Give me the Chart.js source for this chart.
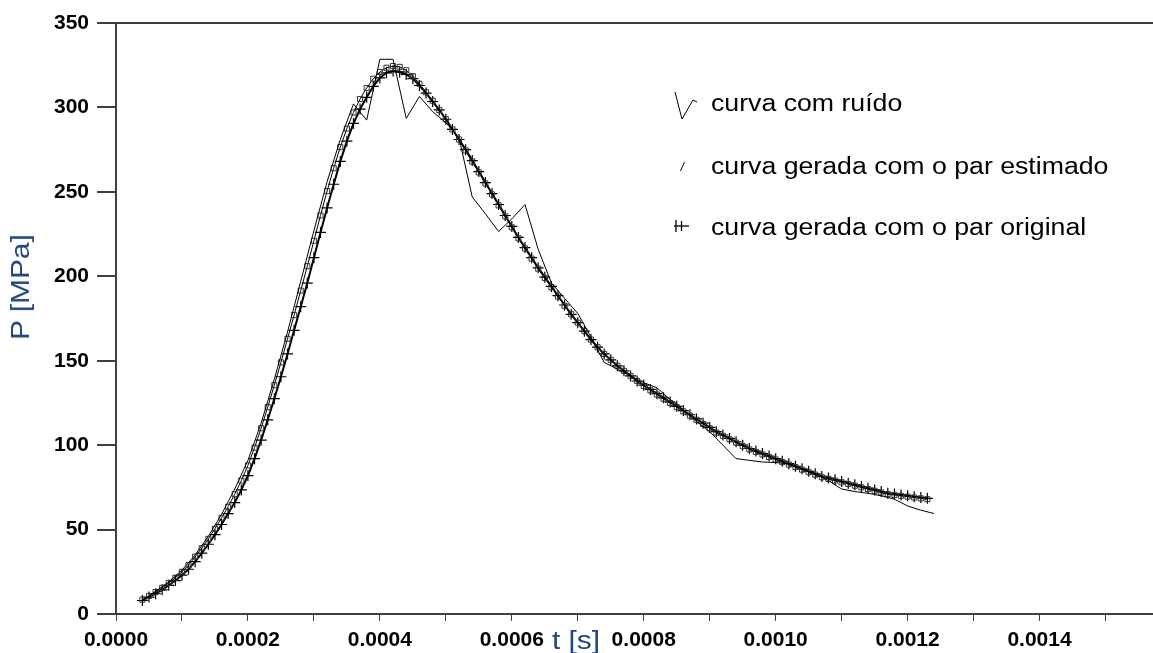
<!DOCTYPE html>
<html>
<head>
<meta charset="utf-8">
<script src="https://cdn.jsdelivr.net/npm/chart.js"></script>
<style>
  body { margin: 0; background: #fff; }
  #wrap { position: relative; width: 1153px; height: 653px; overflow: hidden; }
  #chart { position: absolute; left: 0; top: 0; }
  .lbl { position: absolute; white-space: nowrap; font-family: "Liberation Sans", Arial, sans-serif; }
  .leg { font-size: 23px; line-height: 23px; color: #000; transform: scaleX(1.16); transform-origin: 0 0; }
  .axt { font-size: 26px; line-height: 26px; color: #23467e; }
</style>
</head>
<body>
<div id="wrap">
  <canvas id="chart" width="1153" height="653"></canvas>

  <div class="lbl axt" style="left:20px; top:287px; transform: translate(-50%,-50%) rotate(-90deg) scaleX(1.15);">P [MPa]</div>
  <div class="lbl axt" style="left:576px; top:627px; transform: translateX(-50%) scaleX(1.15);">t [s]</div>

  <svg style="position:absolute; left:0; top:0;" width="1153" height="653">
    <polyline points="675,92 682,119 693,100 697,102" fill="none" stroke="#000" stroke-width="1"/>
    <line x1="680.5" y1="171" x2="684.5" y2="162" stroke="#000" stroke-width="1"/>
    <line x1="674" y1="226" x2="689" y2="226" stroke="#000" stroke-width="1.3"/>
    <line x1="676" y1="220" x2="676" y2="232" stroke="#000" stroke-width="1.3"/>
    <line x1="681.5" y1="221" x2="681.5" y2="231" stroke="#000" stroke-width="1.3"/>
  </svg>
  <div class="lbl leg" style="left:711px; top:92px;">curva com ruído</div>
  <div class="lbl leg" style="left:711px; top:155px;">curva gerada com o par estimado</div>
  <div class="lbl leg" style="left:711px; top:216px;">curva gerada com o par original</div>
</div>

<script>
// time grids in microseconds
const tFine = [
  40, 50, 60, 70, 80, 90, 100, 110, 120, 130,
  140, 150, 160, 170, 180, 190, 200, 210, 220, 230,
  240, 250, 260, 270, 280, 290, 300, 310, 320, 330,
  340, 350, 360, 370, 380, 390, 400, 410, 420, 430,
  440, 450, 460, 470, 480, 490, 500, 510, 520, 530,
  540, 550, 560, 570, 580, 590, 600, 610, 620, 630,
  640, 650, 660, 670, 680, 690, 700, 710, 720, 730,
  740, 750, 760, 770, 780, 790, 800, 810, 820, 830,
  840, 850, 860, 870, 880, 890, 900, 910, 920, 930,
  940, 950, 960, 970, 980, 990, 1000, 1010, 1020, 1030,
  1040, 1050, 1060, 1070, 1080, 1090, 1100, 1110, 1120, 1130,
  1140, 1150, 1160, 1170, 1180, 1190, 1200, 1210, 1220, 1230
];
const tNoisy = [
  40, 60, 80, 100, 120, 140, 160, 180, 200, 220,
  240, 260, 280, 300, 320, 340, 360, 380, 400, 420,
  440, 460, 480, 500, 520, 540, 560, 580, 600, 620,
  640, 660, 680, 700, 720, 740, 760, 780, 800, 820,
  840, 860, 880, 900, 920, 940, 960, 980, 1000, 1020,
  1040, 1060, 1080, 1100, 1120, 1140, 1160, 1180, 1200, 1220,
  1240
];

// P [MPa]
const pOriginal = [
  8, 10, 12, 14.3, 17, 19.8, 23, 26.5, 31, 36,
  41.3, 47, 53, 59.5, 66, 73.5, 82, 92, 103, 115,
  127.5, 140.5, 154, 168, 182, 196, 211, 226, 240.5, 254.5,
  268, 280, 290.5, 299, 306, 312.5, 317.5, 320.5, 321.5, 321,
  319.5, 317, 313, 308.5, 303.5, 298.5, 293, 287, 281, 275,
  268.5, 262, 255.5, 249, 242.5, 236, 229.5, 223, 217, 211,
  205, 199.5, 194, 188.5, 183, 177.5, 172.5, 167.5, 162.5, 158,
  154, 150.5, 147, 144, 141, 138, 135.5, 133, 130.5, 128,
  125.5, 123, 120.5, 118, 115.5, 113, 110.5, 108, 106, 104,
  102, 100, 98, 96.5, 95, 93.5, 92, 90.5, 89, 87.5,
  86, 84.5, 83, 81.5, 80.5, 79.5, 78.5, 77.5, 76.5, 75.5,
  74.5, 73.5, 72.5, 71.5, 71, 70.5, 70, 69.5, 69, 68.5
];
const pEstimated = [
  8.5, 10.7, 13, 15.5, 18.4, 21.5, 25, 29, 34, 39,
  44.5, 50.5, 57, 63.5, 71, 79, 88, 98.5, 110, 122.5,
  135.5, 149, 163, 177, 191.5, 206, 221, 236, 250.5, 264,
  276.5, 287.5, 297, 305, 311.5, 317, 321, 323.5, 324.5, 324,
  322, 318.5, 314, 309, 304, 298.5, 293, 287, 281, 274.5,
  268, 261.5, 255, 248.5, 242, 235.5, 229, 222.5, 216.5, 210.5,
  204.5, 199, 193.5, 188, 182.5, 177.5, 172.5, 167.5, 162.5, 158,
  154, 150.5, 147, 144, 141, 138, 135, 132.5, 130, 127.5,
  125, 122.5, 120, 117.5, 115, 112.5, 110, 107.5, 105.5, 103.5,
  101.5, 99.5, 97.5, 96, 94.5, 93, 91.5, 90, 88.5, 87,
  85.5, 84, 82.5, 81, 80, 79, 78, 77, 76, 75,
  74, 73, 72, 71, 70.5, 70, 69.5, 69, 68.5, 68
];
const pNoisy = [
  8, 13.5, 19, 26, 35, 46, 59, 74, 91, 113,
  139, 167, 197, 227, 256, 281, 302, 292.5, 328.5, 328.5,
  293.5, 306.5, 297.5, 291, 282, 247, 237, 226.5, 234, 242.5,
  216, 196, 187, 178, 164, 149, 145, 141, 137, 134,
  127, 121, 114, 108, 100, 92, 91, 90, 89.7, 89,
  86, 83, 79, 74, 72.5, 71.5, 70, 68, 64, 61.5,
  59.5
];

// axis ticks
const xTicks = [0, 0.0001, 0.0002, 0.0003, 0.0004, 0.0005, 0.0006, 0.0007,
                0.0008, 0.0009, 0.0010, 0.0011, 0.0012, 0.0013, 0.0014, 0.0015];
const xTickLabels = ['0.0000', '', '0.0002', '', '0.0004', '', '0.0006', '',
                     '0.0008', '', '0.0010', '', '0.0012', '', '0.0014', ''];
const yTicks = [0, 50, 100, 150, 200, 250, 300, 350];

const toPoints = (ts, ps) => ts.map((t, i) => ({ x: t / 1e6, y: ps[i] }));

const tickFont = { family: '"Liberation Sans", Arial, sans-serif', size: 21, weight: 'bold' };
const axisColor = '#404040';

new Chart(document.getElementById('chart').getContext('2d'), {
  type: 'line',
  data: {
    datasets: [
      {
        label: 'curva com ruído',
        data: toPoints(tNoisy, pNoisy),
        borderColor: '#000',
        borderWidth: 1,
        pointRadius: 0
      },
      {
        label: 'curva gerada com o par estimado',
        data: toPoints(tFine, pEstimated),
        borderColor: '#000',
        borderWidth: 1,
        pointStyle: 'rect',
        pointRadius: 3.6,
        pointBorderWidth: 1,
        pointBorderColor: '#333',
        pointBackgroundColor: 'rgba(0,0,0,0)'
      },
      {
        label: 'curva gerada com o par original',
        data: toPoints(tFine, pOriginal),
        borderColor: '#000',
        borderWidth: 2,
        pointStyle: 'cross',
        pointRadius: 5.5,
        pointBorderWidth: 1.2,
        pointBorderColor: '#000'
      }
    ]
  },
  options: {
    responsive: false,
    animation: false,
    layout: { autoPadding: false, padding: { top: 23, right: 0, bottom: 0, left: 0 } },
    plugins: { legend: { display: false }, tooltip: { enabled: false } },
    scales: {
      x: {
        type: 'linear',
        min: 0,
        max: 0.001572,
        afterBuildTicks: s => { s.ticks = xTicks.map(v => ({ value: v })); },
        afterFit: s => { s.height = 39; s.paddingRight = 0; s.paddingLeft = 0; },
        border: { color: axisColor, width: 2 },
        grid: { drawOnChartArea: false, tickLength: 7, color: axisColor, lineWidth: 1 },
        ticks: {
          autoSkip: false,
          maxRotation: 0,
          padding: 7,
          color: '#000',
          font: tickFont,
          callback: (v, i) => xTickLabels[i]
        }
      },
      y: {
        min: 0,
        max: 350,
        afterBuildTicks: s => { s.ticks = yTicks.map(v => ({ value: v })); },
        afterFit: s => { s.width = 116; },
        border: { color: axisColor, width: 2 },
        grid: {
          drawOnChartArea: true,
          color: c => (c.tick && c.tick.value === 350) ? axisColor : 'rgba(0,0,0,0)',
          tickColor: axisColor,
          lineWidth: 2,
          tickLength: 19
        },
        ticks: { padding: 8, color: '#000', font: tickFont }
      }
    }
  }
});
</script>
</body>
</html>
